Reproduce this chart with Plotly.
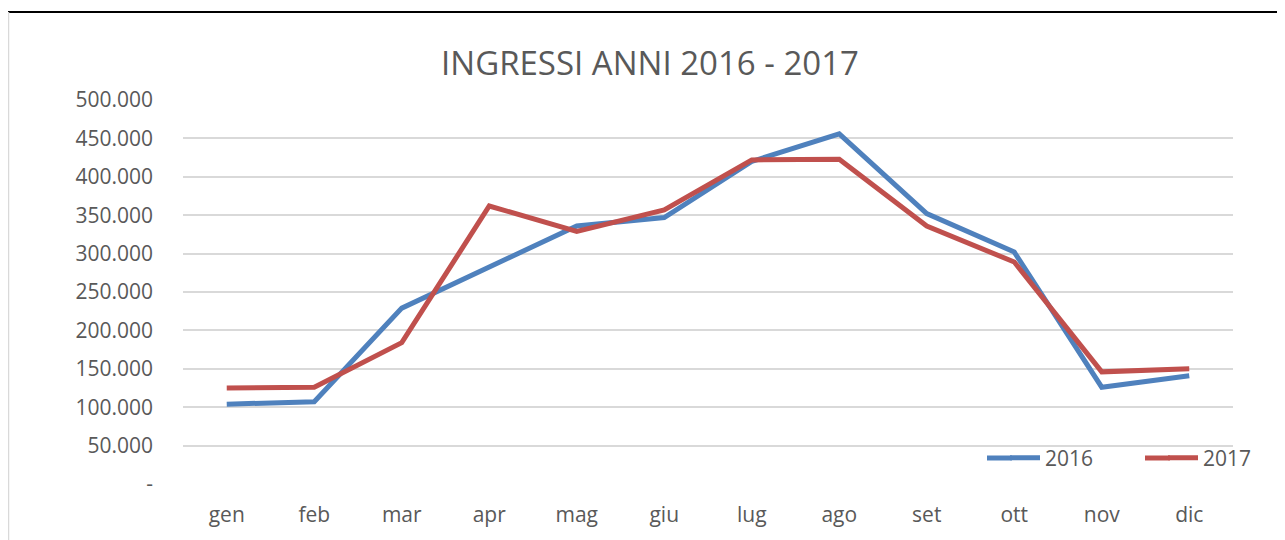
import plotly.graph_objects as go

months = ["gen", "feb", "mar", "apr", "mag", "giu", "lug", "ago", "set", "ott", "nov", "dic"]
v2016 = [104000, 107000, 229000, 282000, 336000, 347000, 420000, 456000, 352000, 302000, 126000, 141000]
v2017 = [125000, 126000, 184000, 362000, 329000, 357000, 422000, 423000, 336000, 289000, 146000, 150000]
ytickvals = [0, 50000, 100000, 150000, 200000, 250000, 300000, 350000, 400000, 450000, 500000]
yticktext = ["-", "50.000", "100.000", "150.000", "200.000", "250.000", "300.000", "350.000", "400.000", "450.000", "500.000"]

OFF = 8  # page body margin offset
W, H = 1285 - OFF, 540 - OFF
L, T = 183 - OFF, 100 - OFF
PR, PB = 1233 - OFF, 484 - OFF
R, B = W - PR, H - PB
pw, ph = PR - L, PB - T

def px(x):  # page pixel -> paper x
    return (x - OFF - L) / pw

def py(y):  # page pixel -> paper y
    return (PB - (y - OFF)) / ph

FONT = "Open Sans"
GREY = "#595959"
BLUE = "#4F81BD"
RED = "#C0504D"
LW = 5

fig = go.Figure()
fig.add_trace(go.Scatter(x=months, y=v2016, name="2016", mode="lines",
                         line=dict(color=BLUE, width=LW), legend="legend"))
fig.add_trace(go.Scatter(x=months, y=v2017, name="2017", mode="lines",
                         line=dict(color=RED, width=LW), legend="legend2"))

leg_common = dict(xanchor="left", yanchor="middle", bgcolor="rgba(0,0,0,0)",
                  font=dict(size=21, color=GREY, family=FONT), borderwidth=0)

fig.update_layout(
    width=W, height=H,
    margin=dict(l=L, r=R, t=T, b=B, autoexpand=False),
    paper_bgcolor="white", plot_bgcolor="white",
    font=dict(family=FONT, color=GREY, size=21),
    title=dict(text="INGRESSI ANNI 2016 - 2017", x=(650 - OFF) / W, xanchor="center",
               y=1 - (63 - OFF) / H, yanchor="middle",
               font=dict(family=FONT, size=33, color=GREY)),
    showlegend=True,
    legend=dict(x=px(1005), y=py(458), **leg_common),
    legend2=dict(x=px(1163), y=py(458), **leg_common),
    xaxis=dict(showgrid=False, showline=False, zeroline=False, ticks="",
               range=[-0.5, 11.5], tickfont=dict(size=21, color=GREY),
               ticklabelstandoff=16),
    yaxis=dict(range=[0, 500000], tickvals=ytickvals, ticktext=yticktext,
               showgrid=True, gridcolor="#D9D9D9", gridwidth=1.5,
               zeroline=False, showline=False, ticks="",
               tickfont=dict(size=21, color=GREY), ticklabelstandoff=29),
    shapes=[
        dict(type="line", xref="paper", yref="paper", x0=px(8), x1=px(1285), y0=py(12), y1=py(12),
             line=dict(color="black", width=2)),
        dict(type="line", xref="paper", yref="paper", x0=px(8.5), x1=px(8.5), y0=py(12), y1=py(540),
             line=dict(color="#D9D9D9", width=1.5)),
        # extend legend sample lines to the reference length
        dict(type="line", xref="paper", yref="paper", x0=px(987), x1=px(1012), y0=py(458), y1=py(458),
             line=dict(color=BLUE, width=LW)),
        dict(type="line", xref="paper", yref="paper", x0=px(1145), x1=px(1170), y0=py(458), y1=py(458),
             line=dict(color=RED, width=LW)),
    ],
)

fig.write_html("out.html")
